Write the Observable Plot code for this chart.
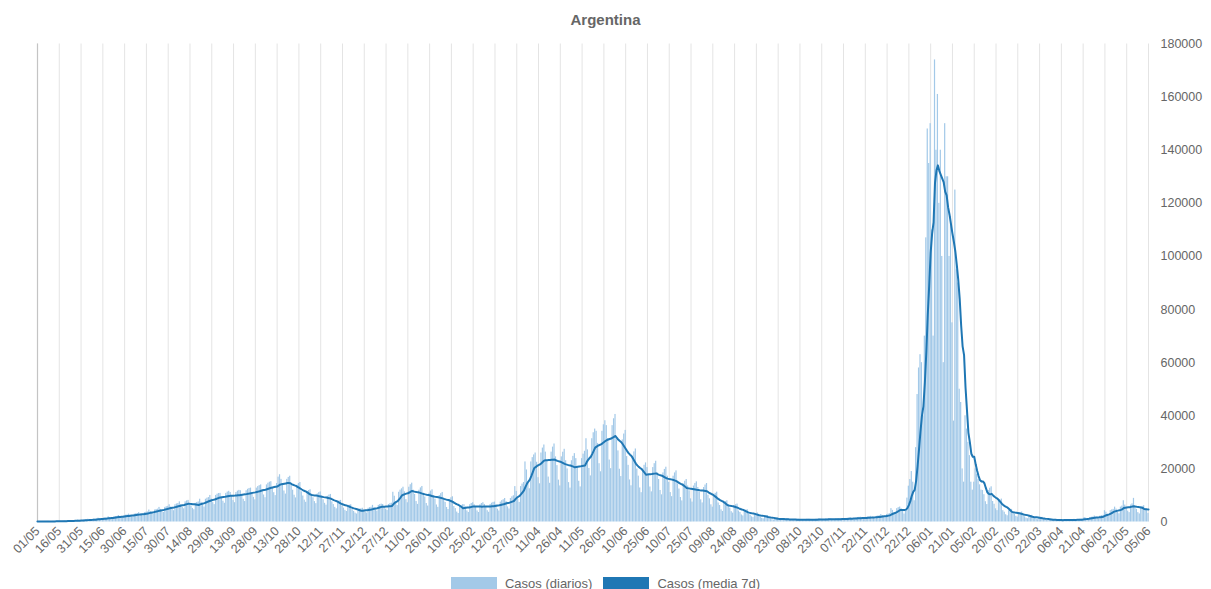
<!DOCTYPE html>
<html><head><meta charset="utf-8">
<script src="https://cdn.jsdelivr.net/npm/d3@7"></script>
<script src="https://cdn.jsdelivr.net/npm/@observablehq/plot@0.6"></script>
<style>
html,body{margin:0;padding:0;background:#fff;overflow:hidden;font-family:"Liberation Sans",Arial,sans-serif;}
#title{height:30px;line-height:30px;text-align:center;font-weight:bold;font-size:15px;color:#666;position:relative;top:5px;margin-bottom:-5px;padding-bottom:5px;}
#chart svg{display:block;}
#legend{display:flex;justify-content:center;align-items:center;height:26px;font-size:13px;color:#666;}
.sw{display:inline-block;width:46px;height:12px;margin-right:8px;}
</style></head><body>
<div id="title">Argentina</div>
<div id="chart"></div>
<div id="legend"><span class="sw" id="sw1"></span><span>Casos (diarios)</span><span class="sw" id="sw2" style="margin-left:11px"></span><span>Casos (media 7d)</span></div>
<script>
const startDate = "2020-05-01";
const seriesNames = ["Casos (diarios)", "Casos (media 7d)"];
const colors = ["#a3c9e8", "#1f77b4"];
const yTicks = [0, 20000, 40000, 60000, 80000, 100000, 120000, 140000, 160000, 180000];

// casos diarios, 2020-05-01 .. 2020-12-31
const casos2020 = [
210,180,150,140,210,220,220,
260,230,190,170,260,280,280,
360,310,260,240,360,380,390,
500,430,360,320,500,520,530,
730,630,530,480,730,760,780,
1030,890,750,680,1030,1080,1110,
1430,1240,1040,940,1430,1500,1530,
1950,1680,1420,1270,1950,2040,2090,
2450,2120,1780,1610,2450,2560,2630,
2970,2570,2160,1940,2970,3110,3190,
3520,3040,2560,2300,3520,3680,3780,
4510,3900,3280,2950,4510,4720,4840,
5500,4750,4000,3600,5500,5750,5900,
6490,5610,4720,4250,6490,6790,6960,
7590,6560,5520,4970,7590,7940,8140,
7040,6080,5120,4610,7040,7360,7550,
8580,7410,6240,5620,8580,8970,9200,
10010,8650,7280,6550,10010,10470,10740,
10780,9310,7840,7060,10780,11270,11560,
11110,9600,8080,7270,11110,11620,11920,
11770,10170,8560,7700,11770,12310,12630,
12760,11020,9280,8350,12760,13340,13690,
13970,12070,10160,9140,13970,14610,14990,
15180,13110,11040,9940,14500,16900,17800,
16060,13870,11680,10510,16060,16790,17230,
13860,11970,10080,9070,13860,14490,14870,
11330,9790,8240,7420,11330,11850,12150,
10560,9120,7680,6910,10560,11040,11330,
9680,8360,7040,6340,9680,10120,10380,
7590,6560,5520,4970,7590,7940,8140,
6050,5230,4400,3960,6050,6330,6490,
4620,3990,3360,3020,4620,4830,4960,
5170,4470,3760,3380,5170,5410,5550,
6270,5420,4560,4100,6270,6560,6730,
6600,5700,4800,4320,6600,6900,7080
];

// casos diarios, 2021-01-01 .. 2021-12-31
const casos2021 = [
11200,9700,7200,6200,11200,12000,12500,
13100,11350,8420,7250,13100,14040,14630,
11980,10380,7700,6630,11980,12840,13380,
10860,9410,6980,6010,10860,11640,12130,
9970,8630,6410,5520,9970,10680,11130,
8510,7370,5470,4710,8510,9120,9500,
5820,5040,3740,3220,5820,6240,6500,
6500,5630,4180,3600,6500,6960,7250,
6480,5600,4170,3580,6490,6950,7260,
6610,5720,4250,3660,6610,7080,7380,
7500,6500,4820,4150,7500,8040,8380,
8850,7660,5690,4900,8850,9480,9880,
13330,11540,8570,7380,13330,14280,14880,
22620,19590,14540,12520,22620,24240,25250,
25980,22500,16700,14380,25980,27840,29000,
26320,22800,16920,14570,26320,28200,29380,
24530,21240,15770,13580,24530,26280,27380,
23070,19980,14830,12770,23070,24720,25750,
23860,20660,15340,13210,23860,25560,26630,
31360,27160,20160,17360,31360,33600,35000,
34160,29590,21960,18910,34160,36600,38130,
36290,31430,23330,20090,36290,38880,40500,
30910,26770,19870,17110,30910,33120,34500,
24640,21340,15840,13640,24640,26400,27500,
19940,17270,12820,11040,19940,21360,22250,
20500,17750,13180,11350,20500,21960,22880,
18480,16010,11880,10230,18480,19800,20630,
17250,14940,11090,9550,17250,18480,19250,
14340,12420,9220,7940,14340,15360,16000,
13550,11740,8710,7500,13550,14520,15130,
12990,11250,8350,7190,12990,13920,14500,
10080,8730,6480,5580,10080,10800,11250,
7170,6210,4610,3970,7170,7680,8000,
6050,5240,3890,3350,6050,6480,6750,
4140,3590,2660,2290,4140,4440,4630,
3020,2620,1940,1670,3020,3240,3380,
2130,1840,1370,1180,2130,2280,2380,
1340,1160,860,740,1340,1440,1500,
1120,970,720,620,1120,1200,1250,
950,820,610,530,950,1020,1060,
950,820,610,530,950,1020,1060,
1010,870,650,560,1010,1080,1130,
1120,970,720,620,1120,1200,1250,
1180,1020,760,650,1180,1260,1310,
1340,1160,860,740,1340,1440,1500,
1570,1360,1010,870,1570,1680,1750,
1790,1550,1150,990,1790,1920,2000,
2130,1840,1370,1180,2130,2280,2380,
2800,2430,1800,1550,2800,3000,3130,
5040,4370,3240,2790,5040,5400,5630,
5000,4500,3000,4000,9000,13500,16000,
19000,15000,8000,28000,48000,58000,63000,
60000
];

// casos diarios, 2022-01-01 .. 2022-06-05
const casos2022 = [
40000,70000,107000,148000,135000,150000,
110000,70000,174000,140000,161000,120000,140000,
100000,60000,150000,130000,130000,100000,115000,
75000,38000,125000,95000,90000,50000,45000,
20000,15000,40000,35000,30000,25000,15000,
12000,15000,20000,18000,16000,14000,12000,
11870,10280,7630,6570,11870,12720,13250,
7730,6690,4970,4280,7730,8280,8630,
4260,3690,2740,2360,4260,4560,4750,
3360,2910,2160,1860,3360,3600,3750,
2240,1940,1440,1240,2240,2400,2500,
1570,1360,1010,870,1570,1680,1750,
950,820,610,530,950,1020,1060,
780,680,500,430,780,840,880,
840,730,540,470,840,900,940,
1010,870,650,560,1010,1080,1130,
1680,1460,1080,930,1680,1800,1880,
2240,1940,1440,1240,2240,2400,2500,
4260,3690,2740,2360,4260,4560,4750,
5600,4850,3600,3100,5600,6000,8000,
6380,5530,4100,3530,6380,6840,8900,
5490,4750,3530,3040,5490,5880,6130,
5040,4370,3240
];

const start = new Date(startDate + "T00:00:00Z");
const values = [...casos2020, ...casos2021, ...casos2022];
const data = values.map((v, i) => ({date: d3.utcDay.offset(start, i), casos: v}));
const end = data[data.length - 1].date;
const tickDates = d3.range(0, values.length, 15).map(i => d3.utcDay.offset(start, i));

document.getElementById("sw1").style.background = colors[0];
document.getElementById("sw2").style.background = colors[1];

const chart = Plot.plot({
  width: 1211,
  height: 540,
  marginLeft: 37,
  marginRight: 63,
  marginTop: 13.5,
  marginBottom: 48.5,
  style: {fontFamily: "Liberation Sans, Arial, sans-serif", color: "#666", background: "transparent"},
  x: {type: "utc", domain: [start, end]},
  y: {domain: [0, 180000]},
  marks: [
    Plot.gridX({ticks: tickDates, stroke: "#e4e4e4", strokeOpacity: 1}),
    Plot.ruleX([start], {stroke: "#c4c4c4", strokeWidth: 1.2}),
    Plot.rectY(data, {
      x1: d => d3.utcHour.offset(d.date, -10),
      x2: d => d3.utcHour.offset(d.date, 10),
      y: "casos",
      fill: colors[0]
    }),
    Plot.lineY(data, Plot.windowY({k: 7, anchor: "end", reduce: "mean"}, {
      x: "date", y: "casos", stroke: colors[1], strokeWidth: 2, curve: "linear"
    })),
    Plot.axisX({ticks: tickDates, tickFormat: d3.utcFormat("%d/%m"), tickRotate: -45, tickSize: 0, tickPadding: 7, fontSize: 12.5, fill: "#666", label: null}),
    Plot.axisY({anchor: "right", ticks: yTicks, tickFormat: d => String(d), tickSize: 0, tickPadding: 12, fontSize: 12.5, fill: "#666", label: null})
  ]
});
document.getElementById("chart").appendChild(chart);
</script>
</body></html>
